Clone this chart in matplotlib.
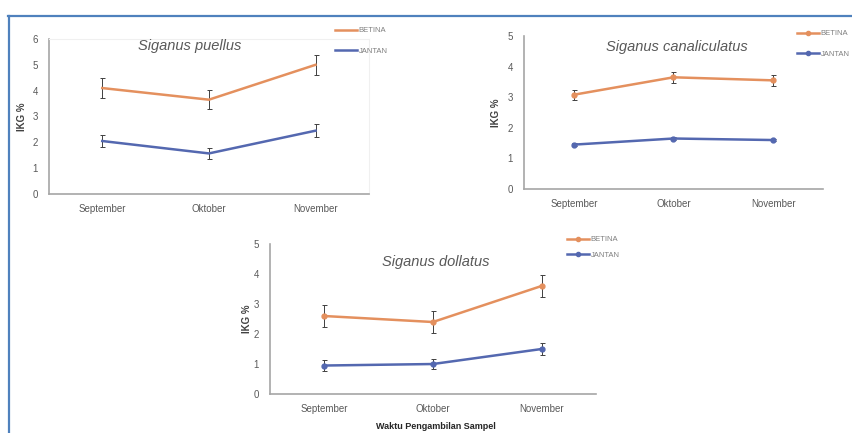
import numpy as np
import matplotlib
matplotlib.use('Agg')
import matplotlib.pyplot as plt
from matplotlib.lines import Line2D

# data
months = ['September', 'Oktober', 'November']
series = ['BETINA', 'JANTAN']

puellus_betina = [4.1, 3.65, 5.0]
puellus_betina_err = [0.38, 0.36, 0.38]
puellus_jantan = [2.05, 1.57, 2.45]
puellus_jantan_err = [0.25, 0.2, 0.25]

canal_betina = [3.08, 3.65, 3.55]
canal_betina_err = [0.17, 0.18, 0.18]
canal_jantan = [1.45, 1.65, 1.6]
canal_jantan_err = [0.04, 0.04, 0.04]

dollatus_betina = [2.6, 2.4, 3.6]
dollatus_betina_err = [0.37, 0.37, 0.37]
dollatus_jantan = [0.95, 1.0, 1.5]
dollatus_jantan_err = [0.17, 0.16, 0.19]

ORANGE = '#E4905E'
BLUE = '#5468B0'

plt.rcParams['font.family'] = ['Liberation Sans', 'DejaVu Sans']

fig = plt.figure(figsize=(8.53, 4.33), dpi=100)


def panel(rect, title, betina, betina_err, jantan, jantan_err, ymax,
          marker, leg_xy, leg_space, title_xy, ylab_x):
    ax = fig.add_axes(rect)
    x = np.arange(len(months))
    handles = []
    for vals, errs, col, lab in [(betina, betina_err, ORANGE, series[0]),
                                 (jantan, jantan_err, BLUE, series[1])]:
        ax.errorbar(x, vals, yerr=errs, color=col, lw=1.8, marker=marker,
                    ms=3.5, ecolor='#404040', elinewidth=0.7, capsize=1.8,
                    capthick=0.7)
        handles.append(Line2D([], [], color=col, lw=1.8, marker=marker,
                              ms=3, label=lab))
    ax.set_xlim(-0.5, 2.5)
    ax.set_ylim(0, ymax)
    ax.set_yticks(range(0, ymax + 1))
    ax.set_xticks(x)
    ax.set_xticklabels(months)
    ax.tick_params(axis='both', length=0, labelsize=7, colors='#595959')
    ax.tick_params(axis='x', pad=7)
    ax.tick_params(axis='y', pad=8)
    for s in ['top', 'right']:
        ax.spines[s].set_visible(False)
    for s in ['left', 'bottom']:
        ax.spines[s].set_color('#A6A6A6')
        ax.spines[s].set_linewidth(1.2)
    ax.text(title_xy[0], title_xy[1], title, transform=ax.transAxes,
            ha='center', va='center', fontsize=10.5, style='italic',
            color='#595959')
    fig.text(ylab_x, rect[1] + rect[3] / 2, 'IKG %', rotation=90,
             ha='center', va='center', fontsize=7, fontweight='bold',
             color='#404040')
    leg = ax.legend(handles=handles, loc='upper left', bbox_to_anchor=leg_xy,
                    bbox_transform=fig.transFigure, frameon=False,
                    fontsize=5.5, handlelength=2.9, handletextpad=0.2,
                    labelspacing=leg_space, borderpad=0, borderaxespad=0)
    for t in leg.get_texts():
        t.set_color('#7F7F7F')
    return ax


ax1 = panel([0.0574, 0.552, 0.375, 0.358], 'Siganus puellus',
            puellus_betina, puellus_betina_err, puellus_jantan,
            puellus_jantan_err, 6, None, (0.3927, 0.9376), 1.76,
            (0.44, 0.955), 0.026)
# faint plot-area frame on the first chart
for s in ['top', 'right']:
    ax1.spines[s].set_visible(True)
    ax1.spines[s].set_color('#F0F0F0')
    ax1.spines[s].set_linewidth(0.8)

panel([0.6143, 0.5635, 0.3505, 0.3534], 'Siganus canaliculatus',
      canal_betina, canal_betina_err, canal_jantan, canal_jantan_err,
      5, 'o', (0.9343, 0.9307), 1.76, (0.51, 0.93), 0.581)

ax3 = panel([0.3165, 0.090, 0.382, 0.3465], 'Siganus dollatus',
            dollatus_betina, dollatus_betina_err, dollatus_jantan,
            dollatus_jantan_err, 5, 'o', (0.6647, 0.455), 1.1,
            (0.51, 0.88), 0.29)

fig.text(0.511, 0.004, 'Waktu Pengambilan Sampel', ha='center',
         va='bottom', fontsize=6.5, fontweight='bold', color='#262626')

# blue frame (top and left edges)
fig.add_artist(Line2D([8 / 853, 1.0], [1 - 16 / 433, 1 - 16 / 433],
                      transform=fig.transFigure, color='#4F81BD', lw=1.6))
fig.add_artist(Line2D([9 / 853, 9 / 853], [0, 1 - 16 / 433],
                      transform=fig.transFigure, color='#4F81BD', lw=1.6))

fig.savefig('out.png', dpi=100)
